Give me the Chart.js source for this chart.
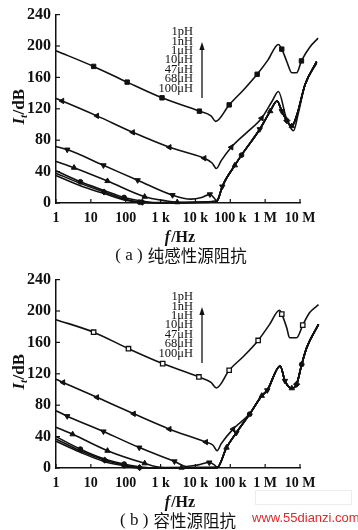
<!DOCTYPE html>
<html><head><meta charset="utf-8">
<script src="https://cdn.jsdelivr.net/npm/chart.js@4.4.1/dist/chart.umd.min.js"></script>
<style>
html,body{margin:0;padding:0;background:#fff;width:358px;height:530px;overflow:hidden;position:relative;}
.panel{position:absolute;left:0;width:358px;height:265px;}
#pa{top:0}
#pb{top:265px}
.wm{position:absolute;left:252px;top:510px;font:13px "Liberation Sans",Arial,sans-serif;color:#e4262a;white-space:nowrap;}
.wbox{position:absolute;left:255px;top:490px;width:95px;height:13px;border:1px solid #ececec;}
</style></head><body>
<div class="panel" id="pa"><canvas id="ca" width="358" height="265"></canvas></div>
<div class="panel" id="pb"><canvas id="cb" width="358" height="265"></canvas></div>
<div class="wbox"></div>
<div class="wm">www.55dianzi.com</div>
<script>
// ---- axes ----
const freqTicks = [1, 10, 100, 1e3, 1e4, 1e5, 1e6, 1e7];
const freqTickLabels = ['1', '10', '100', '1 k', '10 k', '100 k', '1 M', '10 M'];
const yTicks = [0, 40, 80, 120, 160, 200, 240];
const legendLabels = ['1pH', '1nH', '1\u03bcH', '10\u03bcH', '47\u03bcH', '68\u03bcH', '100\u03bcH'];

// ---- panel (a): pure inductive source impedance ----
const aS1 = [[1,194],[12,174],[110,154],[1100,134],[13000,117],[28000,111],[38000,104],[93000,125],[250000,145],[590000,164],[1200000,182],[2400000,202],[3000000,196],[4200000,180],[5800000,166],[8000000,166],[11000000,181],[19500000,199],[33000000,210]];
const aS2 = [[1,133],[1.5,130],[15,111],[160,90],[1800,71],[5000,65],[18000,57],[30000,51],[40000,44],[55000,54],[107000,71],[300000,90],[790000,108],[1600000,130],[2400000,142],[4000000,109],[6500000,92],[8900000,114],[14000000,151],[30000000,178]];
const aS3 = [[1,72],[2.1,68],[23,48],[220,29],[2200,10],[7500,5],[15000,7],[26000,11],[35000,6],[40000,3]];
const aS4 = [[1,53],[3.3,45],[30,28],[350,8],[1300,3],[3000,1],[10000,1],[30000,2],[40000,3]];
const aS5 = [[1,41],[5,27],[24,16],[90,7],[350,2],[1000,0.5],[10000,0.5],[40000,2]];
const aS6 = [[1,38],[5,25],[24,14],[90,5],[300,1],[1000,0.3],[40000,2]];
const aS7 = [[1,35],[5,22],[24,12],[90,4],[250,1],[800,0.2],[40000,2]];
const aRise = [[45000,5],[59000,21],[135000,48],[210000,61],[700000,94],[1400000,117],[2200000,130],[3000000,117],[4200000,105],[5800000,98],[8000000,111],[14000000,151],[30000000,180]];

// ---- panel (b): capacitive source impedance ----
const bS1 = [[1,189],[12,173],[120,152],[1150,133],[12600,116],[28000,109],[40000,102],[93000,124.5],[250000,143],[630000,162.5],[1300000,182],[2600000,201],[3000000,196],[4200000,178],[5000000,166],[8000000,166],[12000000,182],[19000000,198],[34000000,208]];
const bS2 = [[1,113],[1.6,109],[15,90],[170,69],[1800,49.5],[20000,33],[32000,29],[42000,22],[55000,31],[120000,49.5],[360000,69],[800000,92]];
const bS3 = [[1,73],[2.1,66],[23,46.5],[245,26],[2500,8.4],[5600,2],[12000,4],[25000,7],[35000,4],[42000,1]];
const bS4 = [[1,52],[3,43],[30,22],[350,6],[1000,1],[4000,0.5],[42000,0.5]];
const bS5 = [[1,40],[5,24],[25,11.4],[90,5],[300,1],[1000,0.3],[42000,0.5]];
const bS6 = [[1,37],[5,22],[25,10],[90,4],[250,0.5],[1000,0.2],[42000,0.5]];
const bS7 = [[1,34],[5,20],[25,8],[90,3],[200,0.3],[1000,0.1],[42000,0.5]];
const bRise = [[42000,1],[78000,26],[150000,45],[360000,68.6],[800000,92],[1150000,99],[2700000,130],[3700000,111],[5800000,101.6],[8000000,106.7],[11200000,132],[15500000,153],[34000000,183]];

Chart.defaults.font.family = '"Liberation Serif", "Times New Roman", serif';
Chart.defaults.color = '#111';

function after(arr, f){ return arr.filter(p => p[0] > f); }

function ds(pairs, marks, ps, rot, hollow){
  const r = ps === 'circle' ? 2.4 : 3.1;
  return {
    data: pairs.map(p => ({x: p[0], y: p[1]})),
    borderColor: '#111',
    borderWidth: 1.6,
    backgroundColor: hollow ? '#fff' : '#111',
    pointBackgroundColor: hollow ? '#fff' : '#111',
    pointBorderColor: '#111',
    pointBorderWidth: hollow ? 1.3 : 1,
    pointStyle: ps,
    pointRotation: rot || 0,
    pointRadius: c => (c.raw && marks.includes(c.raw.x)) ? r : 0,
    pointHoverRadius: 0,
    cubicInterpolationMode: 'monotone',
    clip: false,
    fill: false
  };
}

const deco = {
  id: 'deco',
  afterDraw(chart, args, o){
    const {ctx, chartArea: a, scales: {x, y}} = chart;
    ctx.save();
    ctx.strokeStyle = '#111'; ctx.fillStyle = '#111'; ctx.lineWidth = 1.2;
    freqTicks.forEach(f => { const px = x.getPixelForValue(f); ctx.beginPath(); ctx.moveTo(px, a.bottom); ctx.lineTo(px, a.bottom - 4); ctx.stroke(); });
    yTicks.forEach(v => { const py = y.getPixelForValue(v); ctx.beginPath(); ctx.moveTo(a.left, py); ctx.lineTo(a.left + 4, py); ctx.stroke(); });
    // legend labels
    ctx.font = '12.5px "Liberation Serif"'; ctx.textAlign = 'right'; ctx.textBaseline = 'middle';
    legendLabels.forEach((t, i) => ctx.fillText(t, 193, 32 + i * 9.4));
    // arrow
    ctx.lineWidth = 1.3;
    ctx.beginPath(); ctx.moveTo(202, 98); ctx.lineTo(202, 49); ctx.stroke();
    ctx.beginPath(); ctx.moveTo(202, 42); ctx.lineTo(199.4, 50); ctx.lineTo(204.6, 50); ctx.closePath(); ctx.fill();
    // y title
    ctx.save();
    ctx.translate(18, 107); ctx.rotate(-Math.PI / 2);
    ctx.textAlign = 'left'; ctx.textBaseline = 'alphabetic';
    const fI = 'italic bold 17px "Liberation Serif"', fT = 'italic bold 11px "Liberation Serif"', fD = 'bold 17px "Liberation Serif"';
    ctx.font = fI; const w1 = ctx.measureText('I').width;
    ctx.font = fT; const w2 = ctx.measureText('t').width;
    ctx.font = fD; const w3 = ctx.measureText('/dB').width;
    let xx = -(w1 + w2 + w3) / 2; const base = 6;
    ctx.font = fI; ctx.fillText('I', xx, base); xx += w1;
    ctx.font = fT; ctx.fillText('t', xx, base + 3); xx += w2 + 0.5;
    ctx.font = fD; ctx.fillText('/dB', xx, base);
    ctx.restore();
    // x title
    ctx.textAlign = 'left'; ctx.textBaseline = 'alphabetic';
    const gI = 'italic bold 16px "Liberation Serif"', gD = 'bold 16px "Liberation Serif"';
    ctx.font = gI; const v1 = ctx.measureText('f').width + 1;
    ctx.font = gD; const v2 = ctx.measureText('/Hz').width;
    let sx = 180 - (v1 + v2) / 2;
    ctx.font = gI; ctx.fillText('f', sx, 241.5); sx += v1;
    ctx.font = gD; ctx.fillText('/Hz', sx, 241.5);
    // caption
    ctx.textBaseline = 'middle';
    ctx.font = '17px "Liberation Serif"';
    const c1 = ctx.measureText(o.tag).width;
    ctx.font = '16.5px "Noto Sans CJK SC"';
    const c2 = ctx.measureText(o.caption).width;
    let cx = o.cx - (c1 + 5 + c2) / 2;
    ctx.font = '17px "Liberation Serif"'; ctx.fillText(o.tag, cx, 256);
    ctx.font = '16.5px "Noto Sans CJK SC"'; ctx.fillText(o.caption, cx + c1 + 5, 256);
    ctx.restore();
  }
};

function makeChart(id, datasets, tag, caption, cx){
  return new Chart(document.getElementById(id), {
    type: 'line',
    data: {datasets},
    plugins: [deco],
    options: {
      responsive: false, animation: false, devicePixelRatio: 1,
      layout: {padding: {left: 0, right: 58, top: 13, bottom: 32}},
      plugins: {legend: {display: false}, tooltip: {enabled: false}, deco: {tag, caption, cx}},
      scales: {
        x: {
          type: 'logarithmic',
          afterDataLimits: s => { s.min = freqTicks[0]; s.max = freqTicks[freqTicks.length - 1]; },
          afterBuildTicks: s => { s.ticks = freqTicks.map(v => ({value: v})); },
          afterFit: s => { s.height = 30; },
          ticks: {
            callback: v => freqTickLabels[freqTicks.indexOf(v)],
            font: {size: 14, weight: 'bold'}, color: '#111', padding: 7,
            maxRotation: 0, autoSkip: false
          },
          grid: {display: false, drawTicks: false},
          border: {display: true, color: '#111', width: 1.5}
        },
        y: {
          min: 0, max: 240,
          afterBuildTicks: s => { s.ticks = yTicks.map(v => ({value: v})); },
          afterFit: s => { s.width = 56; },
          ticks: {font: {size: 16, weight: 'bold'}, color: '#111', padding: 5},
          grid: {display: false, drawTicks: false},
          border: {display: true, color: '#111', width: 1.5}
        }
      }
    }
  });
}

makeChart('ca', [
  ds(aS1, [12,110,1100,13000,93000,590000,3000000,11000000], 'rect', 0, false),
  ds(aS2, [1.5,15,160,1800,18000,107000,790000], 'triangle', 270, false),
  ds(aS3.concat(aRise), [2.1,23,220,2200,26000,59000,700000,3000000,14000000], 'triangle', 180, false),
  ds(aS4.concat(aRise), [3.3,30,350,3000,135000,1400000,5800000], 'triangle', 0, false),
  ds(aS5.concat(aRise), [5,90,210000,30000000], 'circle', 0, false),
  ds(aS6.concat(aRise), [24,300,4200000], 'rectRot', 0, false),
  ds(aS7.concat(aRise), [250], 'circle', 0, false)
], '( a )', '纯感性源阻抗', 181);

makeChart('cb', [
  ds(bS1, [12,120,1150,12600,93000,630000,3000000,12000000], 'rect', 0, true),
  ds(bS2.concat(after(bRise, 800000)), [1.6,15,170,1800,20000,120000], 'triangle', 270, false),
  ds(bS3.concat(after(bRise, 42000)), [2.1,23,245,2500,25000,150000,1150000,3700000,15500000], 'triangle', 180, false),
  ds(bS4.concat(after(bRise, 42000)), [3,30,350,4000,78000,800000,5800000], 'triangle', 0, false),
  ds(bS5.concat(after(bRise, 42000)), [5,90,360000,11200000], 'circle', 0, false),
  ds(bS6.concat(after(bRise, 42000)), [25,250,8000000], 'rectRot', 0, false),
  ds(bS7.concat(after(bRise, 42000)), [90], 'circle', 0, false)
], '( b )', '容性源阻抗', 178);
</script>
</body></html>
